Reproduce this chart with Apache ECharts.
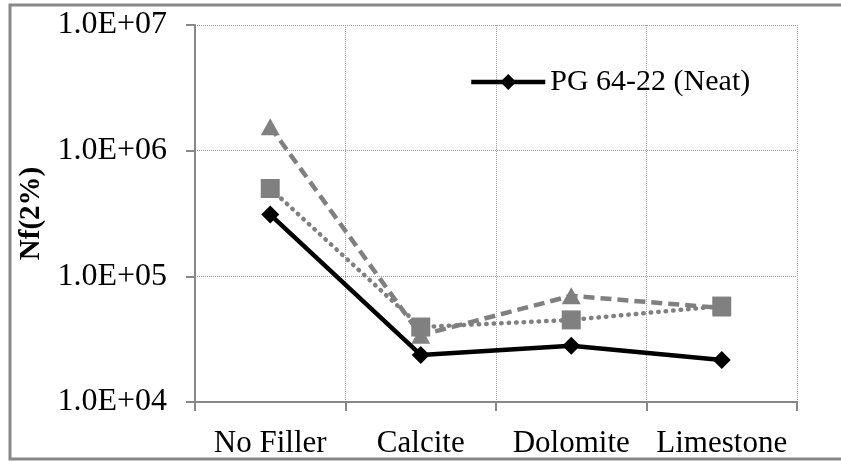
<!DOCTYPE html>
<html>
<head>
<meta charset="utf-8">
<script src="https://cdn.jsdelivr.net/npm/echarts@6/dist/echarts.min.js"></script>
<style>
    html, body { margin: 0; padding: 0; background: #fff; }
    #chart { width: 841px; height: 461px; }
</style>
</head>
<body>
<div id="chart"></div>
<script>
// 数据
var categories = ['No Filler', 'Calcite', 'Dolomite', 'Limestone'];
var neatName = 'PG 64-22 (Neat)';
var neatValues = [3.1e5, 2.37e4, 2.8e4, 2.16e4];
var triangleValues = [1.55e6, 3.4e4, 7.0e4, 5.6e4];
var squareValues = [5.0e5, 3.95e4, 4.5e4, 5.8e4];
var yTickLabels = ['1.0E+04', '1.0E+05', '1.0E+06', '1.0E+07'];

var serif = '"Liberation Serif", "Times New Roman", serif';
var axisGray = '#888888';
var seriesGray = '#808080';

var myChart = echarts.init(document.getElementById('chart'));
var option = {
    backgroundColor: '#ffffff',
    animation: false,
    textStyle: { fontFamily: serif, color: '#000' },
    graphic: [{
        type: 'rect',
        shape: { x: 10, y: 5, width: 840, height: 454 },
        style: { fill: 'none', stroke: axisGray, lineWidth: 3 },
        silent: true
    }],
    grid: { left: 195, right: 44, top: 25, bottom: 59 },
    legend: {
        data: [neatName],
        left: 464,
        top: 62,
        itemWidth: 74,
        itemHeight: 20,
        itemStyle: { color: '#000' },
        lineStyle: { color: '#000', width: 4.5 },
        textStyle: { fontFamily: serif, fontSize: 30, color: '#000' }
    },
    xAxis: {
        type: 'category',
        data: categories,
        boundaryGap: true,
        axisLine: { lineStyle: { color: axisGray, width: 2 } },
        axisTick: { show: true, length: 9, lineStyle: { color: axisGray, width: 2 } },
        axisLabel: { fontFamily: serif, fontSize: 31, color: '#000', margin: 26, interval: 0 },
        splitLine: { show: true, lineStyle: { type: 'dotted', color: '#999', width: 1 } }
    },
    yAxis: {
        type: 'log',
        logBase: 10,
        min: 1e4,
        max: 1e7,
        name: 'Nf(2%)',
        nameLocation: 'middle',
        nameGap: 146,
        nameTextStyle: { fontFamily: serif, fontSize: 29, fontWeight: 'bold', color: '#000' },
        axisLine: { show: true, lineStyle: { color: axisGray, width: 2 } },
        axisTick: { show: true, length: 9, lineStyle: { color: axisGray, width: 2 } },
        axisLabel: {
            fontFamily: serif, fontSize: 32, color: '#000', margin: 28,
            formatter: function (v) {
                var i = Math.round(Math.log10(v)) - 4;
                return yTickLabels[i] || '';
            }
        },
        splitLine: { show: true, lineStyle: { type: 'dotted', color: '#999', width: 1 } }
    },
    series: [{
        name: 'triangle',
        type: 'line',
        data: triangleValues,
        symbol: 'triangle',
        symbolSize: [19, 17],
        itemStyle: { color: seriesGray },
        lineStyle: { color: seriesGray, width: 4.5, type: [11, 6] },
        z: 2
    }, {
        name: 'square',
        type: 'line',
        data: squareValues,
        symbol: 'rect',
        symbolSize: 19,
        itemStyle: { color: seriesGray },
        lineStyle: { color: seriesGray, width: 4.5, type: [0.5, 7], cap: 'round' },
        z: 3
    }, {
        name: neatName,
        type: 'line',
        data: neatValues,
        symbol: 'diamond',
        symbolSize: 18,
        itemStyle: { color: '#000' },
        lineStyle: { color: '#000', width: 4.5 },
        z: 4
    }]
};
myChart.setOption(option);
</script>
</body>
</html>
